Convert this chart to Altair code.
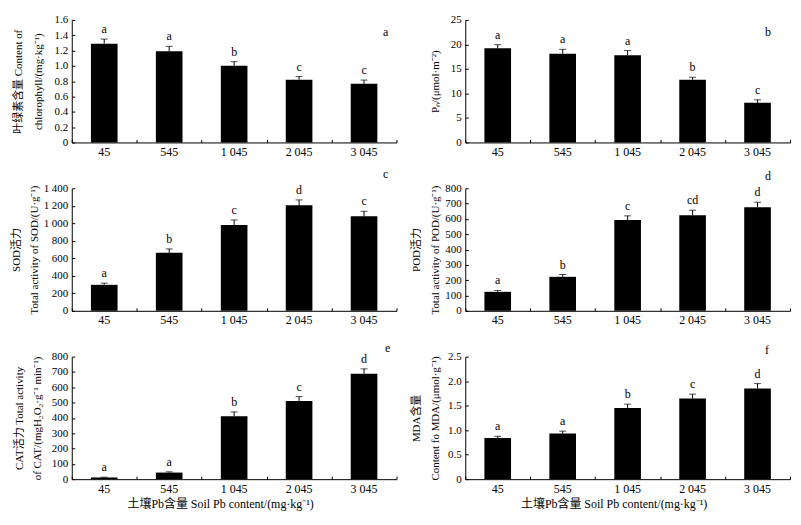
import altair as alt
import pandas as pd

# ---------------- data ----------------
categories = ["45", "545", "1 045", "2 045", "3 045"]

chl_values = [1.29, 1.19, 1.00, 0.82, 0.765]
chl_errors = [0.06, 0.065, 0.055, 0.04, 0.05]
chl_letters = ["a", "a", "b", "c", "c"]
chl_ticks = [0, 0.2, 0.4, 0.6, 0.8, 1.0, 1.2, 1.4, 1.6]

pn_values = [19.2, 18.1, 17.8, 12.8, 8.1]
pn_errors = [0.75, 0.9, 0.95, 0.5, 0.6]
pn_letters = ["a", "a", "a", "b", "c"]
pn_ticks = [0, 5, 10, 15, 20, 25]

sod_values = [297, 662, 981, 1206, 1080]
sod_errors = [19, 45, 57, 61, 57]
sod_letters = ["a", "b", "c", "d", "c"]
sod_ticks = [0, 200, 400, 600, 800, 1000, 1200, 1400]

pod_values = [124, 222, 593, 624, 676]
pod_errors = [9, 15, 27, 33, 33]
pod_letters = ["a", "b", "c", "cd", "d"]
pod_ticks = [0, 100, 200, 300, 400, 500, 600, 700, 800]

cat_values = [11, 43, 411, 511, 689]
cat_errors = [2, 5, 28, 28, 31]
cat_letters = ["a", "a", "b", "c", "d"]
cat_ticks = [0, 100, 200, 300, 400, 500, 600, 700, 800]

mda_values = [0.84, 0.93, 1.45, 1.645, 1.85]
mda_errors = [0.035, 0.05, 0.08, 0.09, 0.10]
mda_letters = ["a", "a", "b", "c", "d"]
mda_ticks = [0, 0.5, 1.0, 1.5, 2.0, 2.5]

panel_letters = ["a", "b", "c", "d", "e", "f"]

x_title = "土壤Pb含量 Soil Pb content/(mg·kg⁻¹)"

# ---------------- style ----------------
W, H = 326, 123
FONT = "Liberation Serif, Times New Roman, Noto Sans CJK SC, serif"

DEC1 = "datum.value == 0 ? '0' : format(datum.value, '.1f')"
THOUS = "replace(format(datum.value, ','), ',', ' ')"
INT = "format(datum.value, 'd')"


def panel(vals, errs, letters, yticks, ymax, ytitle, title_x, label_expr,
          plet, plet_xy, xtitle=None, line_h=19):
    df = pd.DataFrame({
        "cat": categories,
        "val": vals,
        "top": [v + e for v, e in zip(vals, errs)],
        "lab": letters,
    })
    xs = alt.Scale(domain=categories, paddingInner=0, paddingOuter=0)
    ys = alt.Scale(domain=[0, ymax], nice=False, zero=True)
    base = alt.Chart(df)

    if xtitle:
        xaxis_main = alt.Axis(orient="bottom", ticks=False, labelAngle=0, labelPadding=4,
                              labelFontSize=12, domainColor="black", grid=False,
                              title=xtitle, titleFontSize=12, titlePadding=4,
                              titleX=W / 2 - 14)
    else:
        xaxis_main = alt.Axis(orient="bottom", ticks=False, labelAngle=0, labelPadding=4,
                              labelFontSize=12, domainColor="black", grid=False,
                              title=None)
    yaxis_main = alt.Axis(orient="left", ticks=False, values=yticks, labelExpr=label_expr,
                          labelPadding=4, grid=False, domainColor="black",
                          title=ytitle, titleX=title_x, titleBaseline="middle",
                          titleLineHeight=line_h)

    bars = base.mark_bar(color="black", width=alt.RelativeBandSize(0.41)).encode(
        x=alt.X("cat:N", sort=categories, scale=xs, axis=xaxis_main),
        y=alt.Y("val:Q", scale=ys, axis=yaxis_main),
    )
    err = base.mark_rule(color="black", strokeWidth=1).encode(
        x=alt.X("cat:N", sort=categories, scale=xs,
                axis=alt.Axis(orient="top", offset=-H, labels=False, domain=False,
                              ticks=True, tickSize=3, tickBand="extent", title=None,
                              grid=False, tickColor="black")),
        y=alt.Y("val:Q", scale=ys,
                axis=alt.Axis(orient="right", offset=-W, labels=False, domain=False,
                              ticks=True, tickSize=3, values=yticks, title=None,
                              grid=False, tickColor="black")),
        y2="top:Q",
    )
    cap = base.mark_tick(color="black", size=7, thickness=1).encode(
        x=alt.X("cat:N", sort=categories, scale=xs, axis=None),
        y=alt.Y("top:Q", scale=ys, axis=None),
    )
    txt = base.mark_text(baseline="bottom", dy=-3, font=FONT, fontSize=12,
                         color="black").encode(
        x=alt.X("cat:N", sort=categories, scale=xs, axis=None),
        y=alt.Y("top:Q", scale=ys, axis=None),
        text="lab:N",
    )
    pl = alt.Chart(pd.DataFrame({"t": [plet]})).mark_text(
        font=FONT, fontSize=12, color="black", baseline="middle").encode(
        x=alt.value(plet_xy[0]), y=alt.value(plet_xy[1]), text="t:N")

    return alt.layer(bars, err, cap, txt, pl).resolve_axis(
        x="independent", y="independent").properties(width=W, height=H)


pa = panel(chl_values, chl_errors, chl_letters, chl_ticks, 1.6,
           ["叶绿素含量 Content of", "chlorophyll/(mg·kg⁻¹)"], -53, DEC1,
           panel_letters[0], (315, 12), line_h=20)
pb = panel(pn_values, pn_errors, pn_letters, pn_ticks, 25,
           "Pₙ/(μmol·m⁻²)", -30, INT,
           panel_letters[1], (304, 12))
pc = panel(sod_values, sod_errors, sod_letters, sod_ticks, 1400,
           ["SOD活力", "Total activity of SOD/(U·g⁻¹)"], -55, THOUS,
           panel_letters[2], (315, -14), line_h=18)
pd_ = panel(pod_values, pod_errors, pod_letters, pod_ticks, 800,
            ["POD活力", "Total activity of POD/(U·g⁻¹)"], -49, INT,
            panel_letters[3], (304, -12))
pe = panel(cat_values, cat_errors, cat_letters, cat_ticks, 800,
           ["CAT活力 Total activity", "of CAT/(mgH₂O₂·g⁻¹ min⁻¹)"], -52, INT,
           panel_letters[4], (317, -9), xtitle=x_title, line_h=18)
pf = panel(mda_values, mda_errors, mda_letters, mda_ticks, 2.5,
           ["MDA含量", "Content fo MDA/(μmol·g⁻¹)"], -49, DEC1,
           panel_letters[5], (303, -7), xtitle=x_title)

chart = alt.concat(pa, pb, pc, pd_, pe, pf, columns=2,
                   spacing={"row": 46, "column": 69}, bounds="flush").properties(
    padding={"left": 2, "top": 5, "right": 2, "bottom": 5},
    background="white",
).configure_axis(
    labelFont=FONT, titleFont=FONT, labelFontSize=11, titleFontSize=11,
    titleFontWeight="normal", labelColor="black", titleColor="black",
    domainColor="black", tickColor="black",
).configure_view(stroke=None)

chart.save("out.html", embed_options={"renderer": "svg", "actions": False})
